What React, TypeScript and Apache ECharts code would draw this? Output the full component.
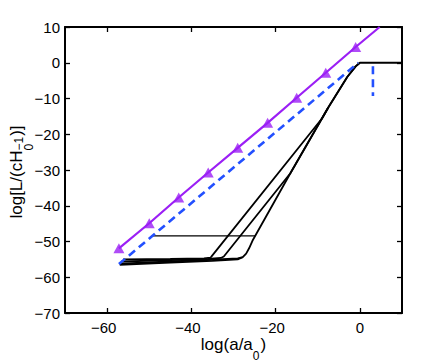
import React, { useEffect, useRef } from 'react';
import * as echarts from 'echarts';

// ---- axis ranges & ticks ----
const xMin = -70;
const xMax = 10;
const yMin = -70;
const yMax = 10;
const yInterval = 10;
const xTickValues = [-60, -40, -20, 0];

// ---- purple line with triangle markers ----
const triX = [-57.2, -50.0, -43.0, -36.0, -29.0, -21.9, -15.0, -8.1, -1.0];
const triY = [-51.9, -44.9, -37.7, -30.7, -23.8, -16.8, -9.8, -2.8, 4.4];
const purpleEndX = [4.7];
const purpleEndY = [10];

// ---- blue dashed ----
const blueDiagX = [-57.2, -0.4];
const blueDiagY = [-56.3, 0];
const blueDropX = [3.1, 3.1];
const blueDropY = [-1.0, -9.3];

// ---- black trajectories ----
const blackAX = [-57.0, -45, -35, -29.0, -27.8, -27.0, -26.3, -25.5, -16.5, -7.5, -3.0, -1.0, 0, 10];
const blackAY = [-56.5, -55.9, -55.4, -55.0, -54.4, -53.4, -51.9, -49.8, -30.9, -12.5, -4.0, -1.0, 0, 0];
const blackBX = [-56.6, -45, -36, -33.0, -32.3, -16.5, -7.5, -3.0, -1.0, 0];
const blackBY = [-55.6, -55.2, -54.9, -54.6, -54.2, -30.9, -12.5, -4.0, -1.0, 0];
const blackCX = [-56.2, -45, -37, -35.5, -35.3, -9.0, -7.5];
const blackCY = [-55.0, -54.9, -54.7, -54.5, -54.3, -15.6, -12.5];
const blackDX = [-57.0, -45, -35, -29.0, -27.8];
const blackDY = [-56.2, -55.6, -55.1, -54.7, -54.4];
const blackHX = [-49.4, -24.9];
const blackHY = [-48.4, -48.4];

const zip = (xs: number[], ys: number[]) => xs.map((x, i) => [x, ys[i]]);

const FONT = '"Liberation Sans", Arial, Helvetica, sans-serif';
const PURPLE = '#9b1ff5';
const BLUE = '#2350ff';

const minus = (v: number) => (v < 0 ? '\u2212' + Math.abs(v) : String(v));

function measure(text: string, size: number): number {
  const c = document.createElement('canvas').getContext('2d');
  if (!c) return text.length * size * 0.55;
  c.font = `${size}px "Liberation Sans"`;
  return c.measureText(text).width;
}

export default function App() {
  const ref = useRef<HTMLDivElement>(null);

  useEffect(() => {
    if (!ref.current) return;
    const chart = echarts.init(ref.current, undefined, { renderer: 'svg' });

    const gridLeft = 65;
    const gridTop = 27;
    const gridW = 337;
    const gridH = 286;

    // x title
    const xs1 = 'log(a/a';
    const xs2 = '0';
    const xs3 = ')';
    const xMain = 17;
    const xSub = 12;
    const xw1 = measure(xs1, xMain);
    const xw2 = measure(xs2, xSub) + 1;
    const xw3 = measure(xs3, xMain);
    const xTotal = xw1 + xw2 + xw3;
    const xCenter = gridLeft + gridW / 2;
    const xStart = xCenter - xTotal / 2;
    const xTitleY = 344;

    // y title (rotated)
    const ys1 = 'log[L/(cH';
    const ysSub = '0';
    const ysSup = '\u22121';
    const ys2 = ')]';
    const yMainSz = 17;
    const ySmall = 12;
    const yw1 = measure(ys1, yMainSz);
    const ywSub = measure(ysSub, ySmall);
    const ywSup = measure(ysSup, ySmall);
    const yw2 = measure(ys2, yMainSz);
    const ywScript = Math.max(ywSub, ywSup) + 1;
    const yTotal = yw1 + ywScript + yw2;
    const yStart = -yTotal / 2;

    const txt = (text: string, x: number, y: number, size: number) => ({
      type: 'text',
      x,
      y,
      style: {
        text,
        fontSize: size,
        fontFamily: FONT,
        fill: '#000',
        textAlign: 'left',
        textVerticalAlign: 'middle',
      },
    });

    const blackLine = (xs: number[], ys: number[], w = 1.8) => ({
      type: 'line',
      xAxisIndex: 0,
      yAxisIndex: 0,
      data: zip(xs, ys),
      showSymbol: false,
      symbol: 'none',
      lineStyle: { color: '#000', width: w },
      z: 2,
    });

    const axisTickCommon = { inside: true, length: 5, lineStyle: { color: '#000', width: 1.3 } };
    const axisLineCommon = { show: true, onZero: false, lineStyle: { color: '#000', width: 2 } };

    chart.setOption({
      animation: false,
      backgroundColor: '#fff',
      grid: { left: gridLeft, top: gridTop, width: gridW, height: gridH, containLabel: false },
      xAxis: [
        {
          type: 'value',
          position: 'bottom',
          min: xMin,
          max: xMax,
          splitLine: { show: false },
          axisLine: axisLineCommon,
          axisTick: { ...axisTickCommon, customValues: xTickValues },
          axisLabel: {
            customValues: xTickValues,
            margin: 7,
            formatter: (v: number) => (v < 0 ? `{n|${minus(v)}}` : `{p|${minus(v)}}`),
            rich: {
              n: { fontSize: 15, lineHeight: 15, fontFamily: FONT, color: '#000', padding: [0, 7, 0, 0] },
              p: { fontSize: 15, lineHeight: 15, fontFamily: FONT, color: '#000' },
            },
          },
        },
        {
          type: 'value',
          position: 'top',
          min: xMin,
          max: xMax,
          splitLine: { show: false },
          axisLine: axisLineCommon,
          axisTick: { ...axisTickCommon, customValues: xTickValues },
          axisLabel: { show: false, customValues: xTickValues },
        },
      ],
      yAxis: [
        {
          type: 'value',
          position: 'left',
          min: yMin,
          max: yMax,
          interval: yInterval,
          splitLine: { show: false },
          axisLine: axisLineCommon,
          axisTick: axisTickCommon,
          axisLabel: {
            margin: 5,
            fontSize: 15,
            fontFamily: FONT,
            color: '#000',
            formatter: (v: number) => minus(v),
          },
        },
        {
          type: 'value',
          position: 'right',
          min: yMin,
          max: yMax,
          interval: yInterval,
          splitLine: { show: false },
          axisLine: axisLineCommon,
          axisTick: axisTickCommon,
          axisLabel: { show: false },
        },
      ],
      series: [
        blackLine(blackDX, blackDY),
        blackLine(blackCX, blackCY),
        blackLine(blackBX, blackBY),
        blackLine(blackAX, blackAY),
        blackLine(blackHX, blackHY, 1.2),
        {
          type: 'line',
          data: zip(blueDiagX, blueDiagY),
          symbol: 'none',
          lineStyle: { color: BLUE, width: 2.6, type: [8, 5] },
          z: 3,
        },
        {
          type: 'line',
          data: zip(blueDropX, blueDropY),
          symbol: 'none',
          lineStyle: { color: BLUE, width: 2.6, type: [8, 5] },
          z: 3,
        },
        {
          type: 'line',
          data: zip([...triX, ...purpleEndX], [...triY, ...purpleEndY]),
          symbol: 'none',
          lineStyle: { color: PURPLE, width: 2.2 },
          z: 4,
        },
        {
          type: 'scatter',
          data: zip(triX, triY),
          symbol: 'triangle',
          symbolSize: [11, 10],
          itemStyle: { color: PURPLE },
          z: 5,
        },
      ],
      graphic: [
        txt(xs1, xStart, xTitleY, xMain),
        txt(xs2, xStart + xw1, xTitleY + 12, xSub),
        txt(xs3, xStart + xw1 + xw2, xTitleY, xMain),
        {
          type: 'group',
          x: 16.5,
          y: gridTop + gridH / 2 + 2,
          rotation: Math.PI / 2,
          children: [
            txt(ys1, yStart, 0, yMainSz),
            txt(ysSub, yStart + yw1, 12, ySmall),
            txt(ysSup, yStart + yw1, 2, ySmall),
            txt(ys2, yStart + yw1 + ywScript, 0, yMainSz),
          ],
        },
      ],
    });

    return () => {
      chart.dispose();
    };
  }, []);

  return (
    <div
      ref={ref}
      style={{ position: 'fixed', left: 0, top: 0, width: 443, height: 364, background: '#fff' }}
    />
  );
}
